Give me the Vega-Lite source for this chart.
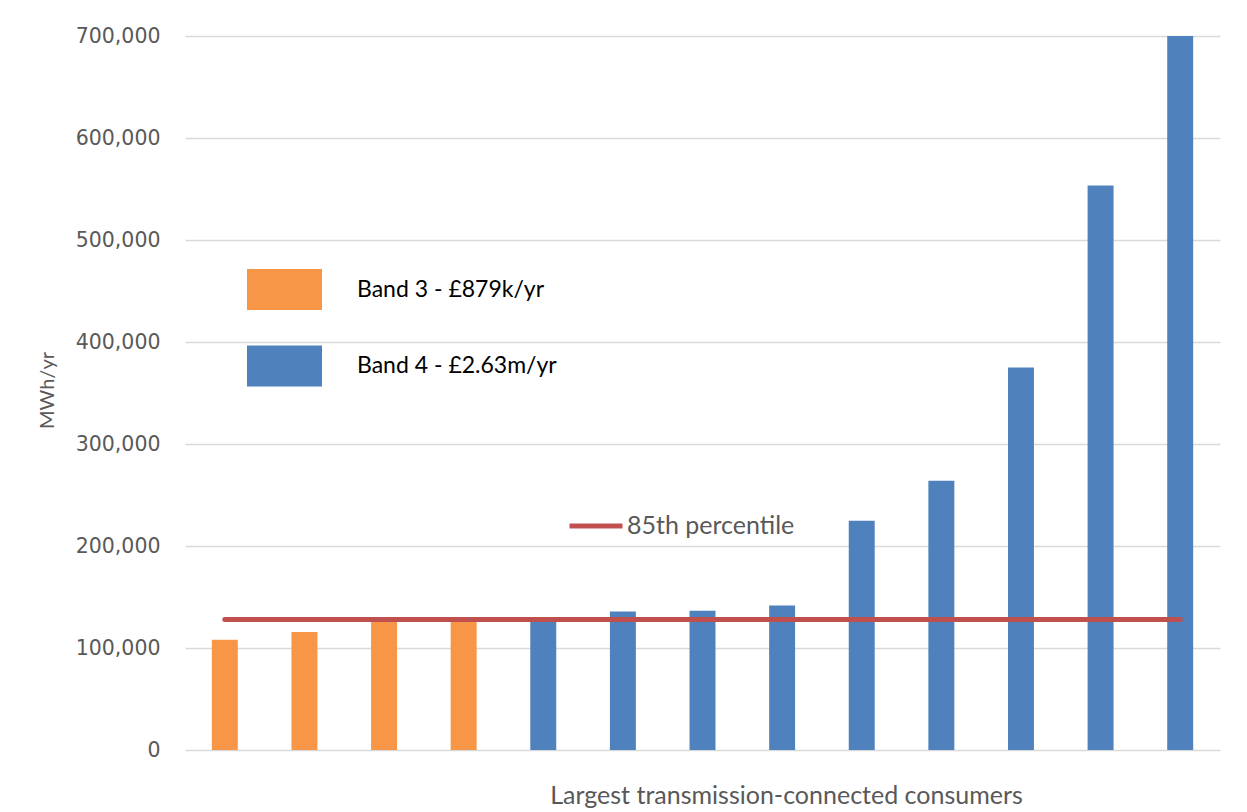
{
  "$schema": "https://vega.github.io/schema/vega-lite/v6.json",
  "width": 1035,
  "height": 714,
  "autosize": {"type": "none"},
  "padding": {"left": 185, "top": 36, "right": 27, "bottom": 62},
  "background": "white",
  "config": {"view": {"stroke": null}, "font": "Lato"},
  "data": {
    "values": [
      {"rank": 1, "band": "Band 3 - £879k/yr", "mwh": 108000, "p85": 128000},
      {"rank": 2, "band": "Band 3 - £879k/yr", "mwh": 115800, "p85": 128000},
      {"rank": 3, "band": "Band 3 - £879k/yr", "mwh": 127000, "p85": 128000},
      {"rank": 4, "band": "Band 3 - £879k/yr", "mwh": 127500, "p85": 128000},
      {"rank": 5, "band": "Band 4 - £2.63m/yr", "mwh": 128500, "p85": 128000},
      {"rank": 6, "band": "Band 4 - £2.63m/yr", "mwh": 135700, "p85": 128000},
      {"rank": 7, "band": "Band 4 - £2.63m/yr", "mwh": 136400, "p85": 128000},
      {"rank": 8, "band": "Band 4 - £2.63m/yr", "mwh": 141600, "p85": 128000},
      {"rank": 9, "band": "Band 4 - £2.63m/yr", "mwh": 224700, "p85": 128000},
      {"rank": 10, "band": "Band 4 - £2.63m/yr", "mwh": 264000, "p85": 128000},
      {"rank": 11, "band": "Band 4 - £2.63m/yr", "mwh": 374900, "p85": 128000},
      {"rank": 12, "band": "Band 4 - £2.63m/yr", "mwh": 553500, "p85": 128000},
      {"rank": 13, "band": "Band 4 - £2.63m/yr", "mwh": 700000, "p85": 128000}
    ]
  },
  "encoding": {
    "x": {
      "field": "rank",
      "type": "ordinal",
      "scale": {"paddingInner": 0.674, "paddingOuter": 0.337},
      "axis": {
        "labels": false,
        "ticks": false,
        "domain": false,
        "grid": false,
        "title": "Largest transmission-connected consumers",
        "titleFont": "Lato",
        "titleFontSize": 25,
        "titleFontWeight": "normal",
        "titleColor": "#595959",
        "titleAlign": "center",
        "titleBaseline": "middle",
        "titleX": 601,
        "titleY": 45
      }
    }
  },
  "layer": [
    {
      "mark": {"type": "bar"},
      "encoding": {
        "y": {
          "field": "mwh",
          "type": "quantitative",
          "scale": {"domain": [0, 700000], "nice": false},
          "axis": {
            "values": [0, 100000, 200000, 300000, 400000, 500000, 600000, 700000],
            "format": ",.0f",
            "labelFont": "DejaVu Sans",
            "labelFontSize": 20.5,
            "labelColor": "#595959",
            "labelPadding": 25,
            "ticks": false,
            "domain": false,
            "gridColor": "#d9d9d9",
            "gridWidth": 1.5,
            "title": "MWh/yr",
            "titleFont": "Lato",
            "titleFontSize": 20,
            "titleFontWeight": "normal",
            "titleColor": "#595959",
            "titleAngle": -90,
            "titleAlign": "center",
            "titleBaseline": "middle",
            "titleX": -138,
            "titleY": 354
          }
        },
        "color": {
          "field": "band",
          "type": "nominal",
          "scale": {
            "domain": ["Band 3 - £879k/yr", "Band 4 - £2.63m/yr"],
            "range": ["#F79646", "#4F81BD"]
          },
          "legend": {
            "title": null,
            "orient": "none",
            "legendX": 62,
            "legendY": 216,
            "padding": 0,
            "symbolType": "M-1,-0.547H1V0.547H-1Z",
            "symbolSize": 5625,
            "symbolStrokeWidth": 0,
            "labelFont": "Lato",
            "labelFontSize": 23,
            "labelColor": "#000000",
            "labelOffset": 35,
            "labelLimit": 400,
            "rowPadding": 17.5
          }
        }
      }
    },
    {
      "mark": {"type": "line", "strokeWidth": 5, "strokeCap": "round"},
      "encoding": {
        "y": {"field": "p85", "type": "quantitative"},
        "stroke": {
          "datum": "85th percentile",
          "scale": {"range": ["#C0504D"]},
          "legend": {
            "title": null,
            "orient": "none",
            "legendX": 382,
            "legendY": 461,
            "padding": 0,
            "symbolType": "stroke",
            "symbolSize": 2809,
            "symbolStrokeWidth": 5,
            "labelFont": "Lato",
            "labelFontSize": 25,
            "labelColor": "#595959",
            "labelOffset": 2,
            "labelLimit": 400
          }
        }
      }
    }
  ]
}
